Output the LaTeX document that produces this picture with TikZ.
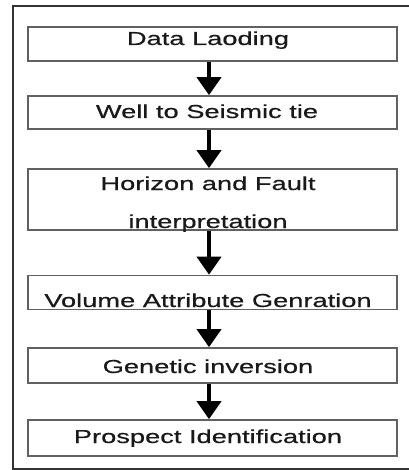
\documentclass[tikz,border=0pt]{standalone}
\usepackage{fontspec}
\setmainfont[FakeStretch=1.45,FakeBold=0.6]{Liberation Sans}
\usetikzlibrary{arrows.meta}
\begin{document}
\begin{tikzpicture}[x=1pt,y=1pt,
  stepbox/.style={draw=black!62,line width=1.7pt,rectangle,inner sep=0pt,minimum width=369pt},
  lbl/.style={anchor=base,inner sep=0pt,text=black!90,font=\fontsize{18.8pt}{22pt}\selectfont},
  flow/.style={line width=4pt,-{Triangle[length=18pt,width=24pt]}},
  frame/.style={draw=black!80,line width=1.8pt}]
\useasboundingbox (0,0) rectangle (408,-470);
\draw[frame] (416,-6) -- (13,-6) -- (13,-469) -- (416,-469);
\node[stepbox,minimum height=34pt] (b1) at (212.5,-44) {};
\node[stepbox,minimum height=33pt] (b2) at (212.5,-112.5) {};
\node[stepbox,minimum height=61pt] (b3) at (212.5,-199.5) {};
\node[stepbox,minimum height=34pt] (b4) at (212.5,-292.5) {};
\node[stepbox,minimum height=35pt] (b5) at (212.5,-365.5) {};
\node[stepbox,minimum height=36pt] (b6) at (212.5,-438) {};
\node[lbl] (t1) at (208,-45) {Data Laoding};
\node[lbl] (t2) at (207,-118) {Well to Seismic tie};
\node[lbl] (t3a) at (208,-190) {Horizon and Fault};
\node[lbl] (t3b) at (208,-228) {interpretation};
\node[lbl] (t4) at (208,-307) {Volume Attribute Genration};
\node[lbl] (t5) at (208,-373) {Genetic inversion};
\node[lbl] (t6) at (208,-443) {Prospect Identification};
\draw[flow] ([xshift=-3.5pt]b1.south) -- ([xshift=-3.5pt]b2.north);
\draw[flow] ([xshift=-3.5pt]b2.south) -- ([xshift=-3.5pt]b3.north);
\draw[flow] ([xshift=-3.5pt]b3.south) -- ([xshift=-3.5pt]b4.north);
\draw[flow] ([xshift=-3.5pt]b4.south) -- ([xshift=-3.5pt]b5.north);
\draw[flow] ([xshift=-3.5pt]b5.south) -- ([xshift=-3.5pt]b6.north);
\end{tikzpicture}
\end{document}
